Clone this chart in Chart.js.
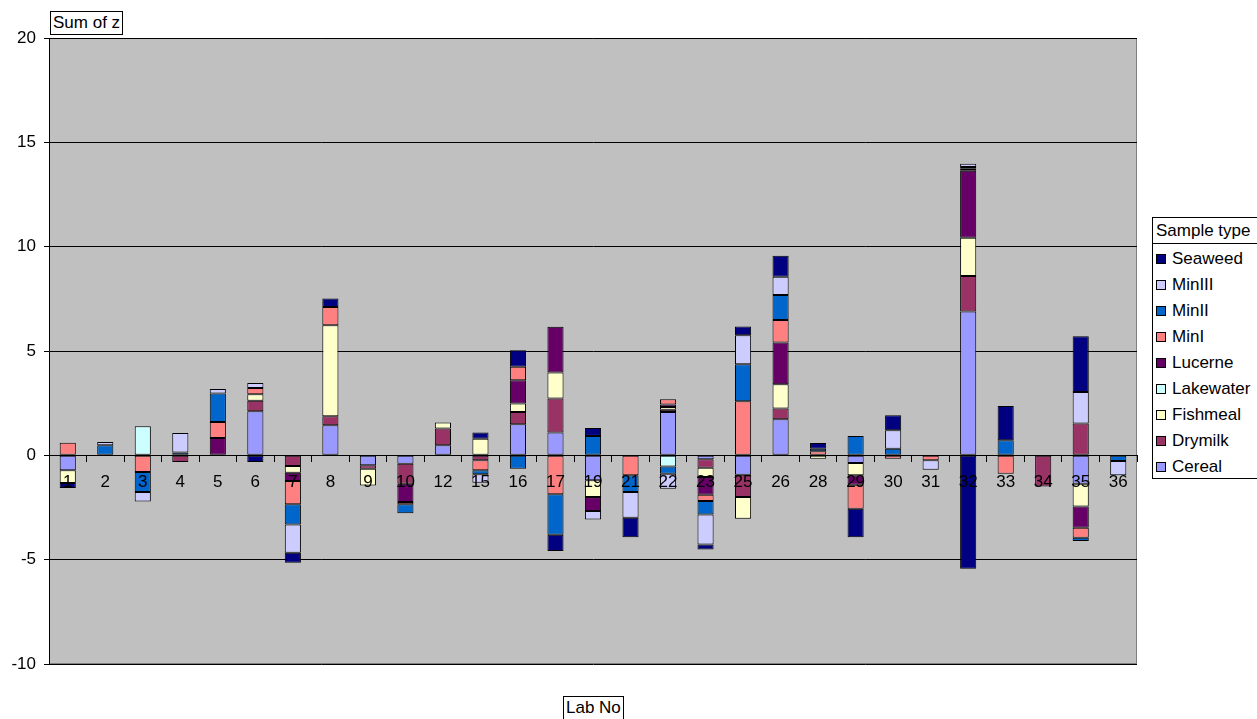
<!DOCTYPE html>
<html>
<head>
<meta charset="utf-8">
<title>Sum of z by Lab No</title>
<script src="https://cdn.jsdelivr.net/npm/chart.js@4/dist/chart.umd.min.js"></script>
<style>
  body { margin: 0; overflow: hidden; background: #fff; font-family: "Liberation Sans", Arial, sans-serif; }
  #wrap { position: relative; width: 1257px; height: 719px; overflow: hidden; }
  .tbox { position: absolute; border: 1px solid #000; background: #fff; font-size: 17px; line-height: 22px; padding: 0 2px; color: #000; white-space: nowrap; }
  #legend { position: absolute; left: 1152px; top: 217px; width: 115px; height: 260px; border: 1px solid #000; background: #fff; font-size: 17px; color: #000; }
  #legend .ltitle { height: 25px; line-height: 25px; border-bottom: 1px solid #000; padding-left: 3px; white-space: nowrap; }
  #legend .items { padding-top: 2px; }
  #legend .item { height: 26px; line-height: 26px; white-space: nowrap; }
  #legend .mark { display: inline-block; width: 8px; height: 8px; border: 1px solid #000; margin: 0 6px 0 3px; vertical-align: 0px; }
</style>
</head>
<body>
<div id="wrap">
  <canvas id="zChart" width="1257" height="719"></canvas>
  <div class="tbox" style="left:50px; top:11px;">Sum of z</div>
  <div class="tbox" style="left:563px; top:696px;">Lab No</div>
  <div id="legend">
    <div class="ltitle">Sample type</div>
    <div class="items" id="legendItems"></div>
  </div>
</div>
<script>
// categories (Lab No)
const labNo = ['1', '2', '3', '4', '5', '6', '7', '8', '9', '10', '12', '15', '16', '17', '19',
               '21', '22', '23', '25', '26', '28', '29', '30', '31', '32', '33', '34', '35', '36'];

// z values per sample type (null = no bar)
const cereal    = [-0.72, null, null, null, null, 2.11, null, 1.44, -0.48, -0.4, 0.48, null, 1.49, 1.09, -1.2,
                   null, 2.08, -0.19, -0.93, 1.73, null, -0.37, null, null, 6.89, null, null, -1.36, null];
const drymilk   = [null, null, null, -0.32, null, 0.5, -0.51, 0.43, -0.16, -0.96, 0.8, -0.24, 0.59, 1.63, null,
                   null, 0.11, -0.4, -1.07, 0.51, null, null, null, null, 1.7, null, -1.49, 1.52, null];
const fishmeal  = [-0.6, null, null, null, null, 0.32, -0.32, 4.36, -0.8, null, 0.29, 0.8, 0.4, 1.25, -0.8,
                   null, 0.13, -0.45, -1.04, 1.17, -0.16, -0.59, null, null, 1.84, null, null, -1.09, null];
const lakewater = [null, null, 1.39, null, null, null, null, null, null, null, null, null, null, null, null,
                   null, -0.53, null, null, null, null, null, null, null, null, null, null, null, null];
const lucerne   = [null, null, null, null, 0.83, null, -0.4, null, null, -0.88, null, null, 1.12, 2.19, -0.67,
                   null, 0.12, -0.85, null, 2.0, null, -0.45, null, null, 3.21, null, null, -1.02, null];
const minI      = [0.6, null, -0.8, null, 0.77, 0.3, -1.12, 0.88, null, -0.11, null, -0.48, 0.64, -1.87, null,
                   -0.96, 0.25, -0.3, 2.59, 1.07, 0.2, -1.15, -0.16, -0.24, 0.1, -0.88, null, -0.48, null];
const minII     = [null, 0.48, -0.96, 0.14, 1.36, null, -0.96, null, null, -0.42, null, -0.19, -0.64, -1.93, 0.93,
                   -0.8, -0.35, -0.64, 1.77, 1.2, 0.12, 0.93, 0.32, null, 0.08, 0.72, null, -0.16, -0.27];
const minIII    = [null, 0.16, -0.45, 0.93, 0.22, 0.24, -1.36, null, null, null, null, -0.4, null, null, -0.4,
                   -1.23, -0.72, -1.44, 1.39, 0.88, null, null, 0.88, -0.45, 0.15, null, null, 1.52, -0.69];
const seaweed   = [-0.25, null, null, null, null, -0.32, -0.48, 0.4, null, null, null, 0.29, 0.8, -0.78, 0.38,
                   -0.93, null, -0.24, 0.43, 1.01, 0.27, -1.37, 0.72, null, -5.44, 1.65, null, 2.67, null];

const seriesNames  = ['Cereal', 'Drymilk', 'Fishmeal', 'Lakewater', 'Lucerne', 'MinI', 'MinII', 'MinIII', 'Seaweed'];
const seriesValues = [cereal, drymilk, fishmeal, lakewater, lucerne, minI, minII, minIII, seaweed];
const seriesColors = ['#9999FF', '#993366', '#FFFFCC', '#CCFFFF', '#660066', '#FF8080', '#0066CC', '#CCCCFF', '#000080'];

// y axis tick labels
const yTicks = [-10, -5, 0, 5, 10, 15, 20];

const axisFont = { family: '"Liberation Sans", Arial, sans-serif', size: 17 };

// grey plot area like Excel
const plotBg = {
    id: 'plotBg',
    beforeDraw(chart) {
        const { ctx, chartArea: a } = chart;
        ctx.save();
        ctx.fillStyle = '#C0C0C0';
        ctx.fillRect(a.left, a.top, a.right - a.left, a.bottom - a.top);
        ctx.strokeStyle = '#808080';
        ctx.lineWidth = 1;
        ctx.strokeRect(a.left + 0.5, a.top + 0.5, a.right - a.left - 1, a.bottom - a.top - 1);
        ctx.restore();
    }
};

const datasets = seriesNames.map((name, i) => ({
    label: name,
    data: seriesValues[i],
    backgroundColor: seriesColors[i],
    borderColor: '#000',
    borderWidth: 1,
    borderSkipped: false,
    barPercentage: 0.43,
    categoryPercentage: 1.0
}));

const ctx = document.getElementById('zChart').getContext('2d');
const chart = new Chart(ctx, {
    type: 'bar',
    data: { labels: labNo, datasets: datasets },
    plugins: [plotBg],
    options: {
        responsive: false,
        animation: false,
        layout: { padding: { top: 38, right: 120, bottom: 55, left: 0 } },
        plugins: {
            legend: { display: false },
            tooltip: { enabled: false }
        },
        scales: {
            x: {
                stacked: true,
                position: { y: 0 },
                grid: { drawOnChartArea: false, tickLength: 6, color: '#000', offset: true, z: 1 },
                border: { color: '#000', z: 1 },
                // labels sit on top of the bars, as in Excel
                ticks: { color: '#000', font: axisFont, padding: 11, maxRotation: 0, autoSkip: false, z: 1 }
            },
            y: {
                stacked: true,
                min: -10,
                max: 20,
                afterFit: s => { s.width = 49; },
                afterBuildTicks: s => { s.ticks = yTicks.map(v => ({ value: v })); },
                grid: { color: '#000', tickLength: 5 },
                border: { color: '#000' },
                ticks: { color: '#000', font: axisFont, padding: 8 }
            }
        }
    }
});

// legend, Seaweed first as in the picture
const legendBox = document.getElementById('legendItems');
chart.data.datasets.slice().reverse().forEach(ds => {
    const row = document.createElement('div');
    row.className = 'item';
    const mark = document.createElement('span');
    mark.className = 'mark';
    mark.style.background = ds.backgroundColor;
    row.appendChild(mark);
    row.appendChild(document.createTextNode(ds.label));
    legendBox.appendChild(row);
});
</script>
</body>
</html>
